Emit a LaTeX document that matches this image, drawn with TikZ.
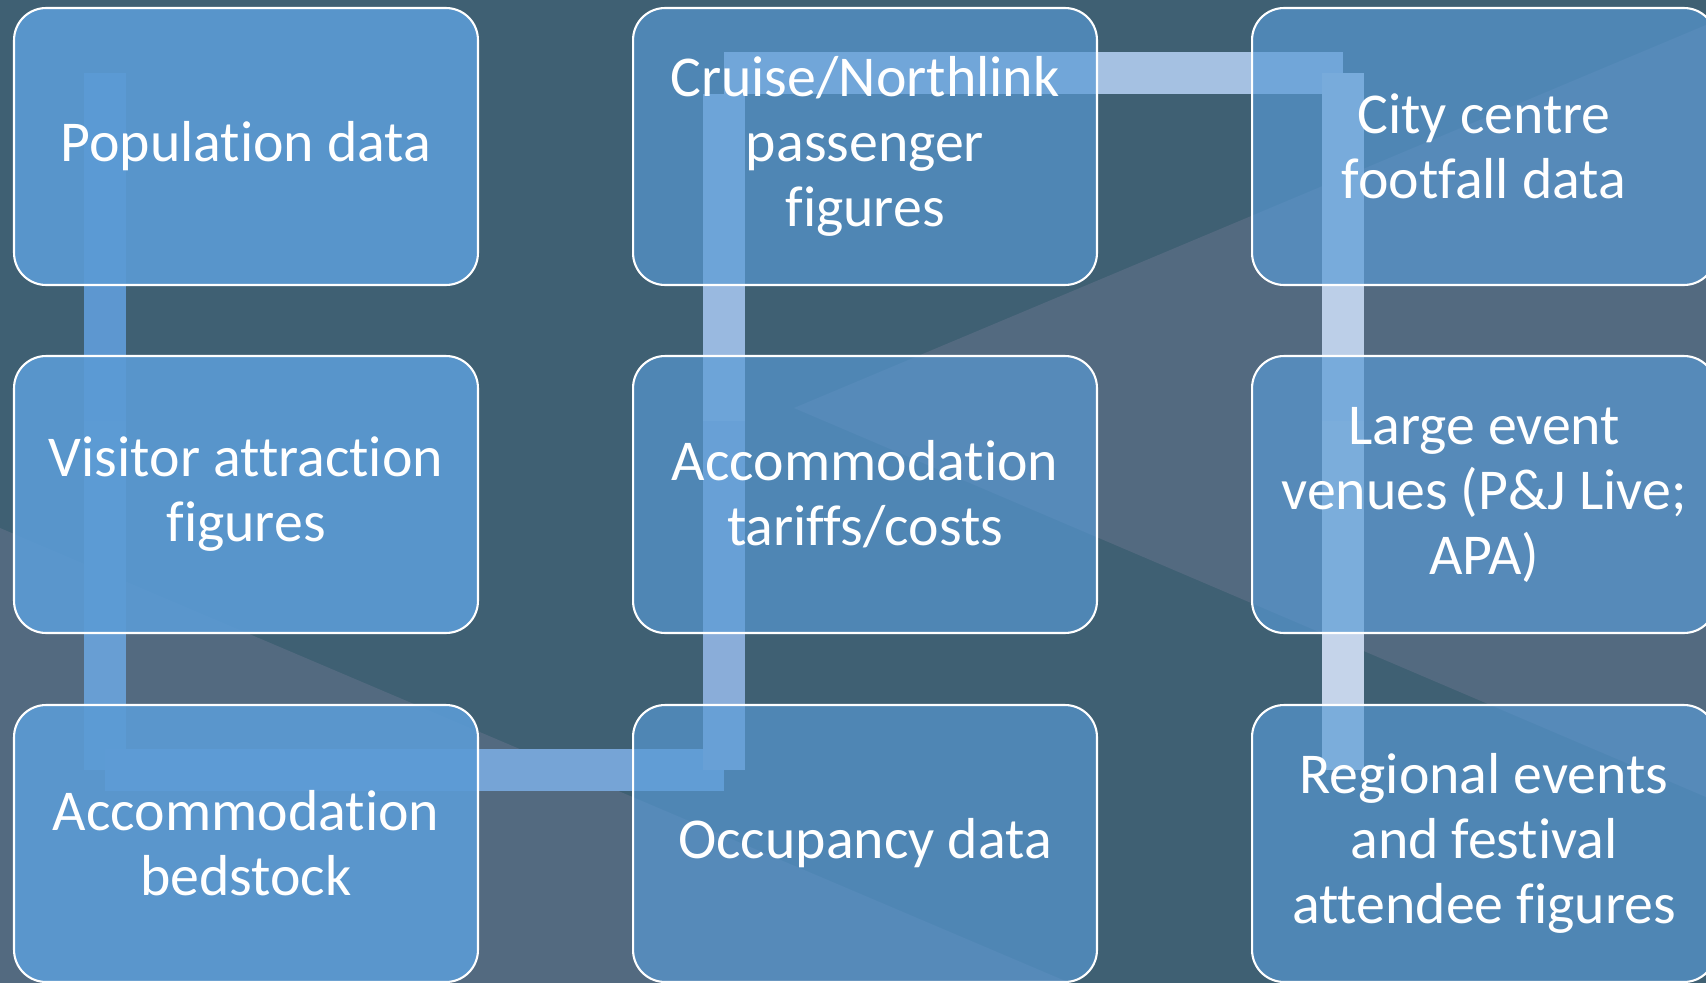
\documentclass[tikz,border=0pt]{standalone}
\usepackage{fontspec}
\setmainfont{Carlito}[Ligatures={NoCommon,NoRare,NoContextual}]
\usepackage{tikz}
\usetikzlibrary{calc,backgrounds}
\definecolor{slate1} {RGB} {63, 96, 115}
\definecolor{slate2} {RGB} {83, 106, 128}
\definecolor{tile1} {RGB} {91, 155, 213}
\definecolor{tile2} {RGB} {88, 154, 213}
\definecolor{link1} {RGB} {93, 151, 208}
\definecolor{link2} {RGB} {104, 158, 211}
\definecolor{link3} {RGB} {118, 164, 214}
\definecolor{link4} {RGB} {138, 173, 217}
\definecolor{link5} {RGB} {153, 185, 224}
\definecolor{link6} {RGB} {165, 193, 226}
\definecolor{link7} {RGB} {188, 207, 232}
\definecolor{link8} {RGB} {197, 212, 234}
\pgfdeclarelayer{links}
\pgfsetlayers{background,links,main}
\tikzstyle{tile}=[
  rectangle, rounded corners=0.64cm, draw=white, line width=1.2pt,
  minimum width=9.28cm, minimum height=5.54cm, inner sep=0pt,
  align=center, text=white, text opacity=1,
  font=\fontsize{32.9}{37}\selectfont
]
\tikzstyle{tileA}=[tile, fill=tile1, fill opacity=0.9]
\tikzstyle{tileB}=[tile, fill=tile2, fill opacity=0.67]

\begin{document}
\begin{tikzpicture}[x=0.02cm, y=-0.02cm]
  \useasboundingbox (0,0) rectangle (1706,983);
  \begin{pgfonlayer}{background}
    \fill[slate1] (0,0) rectangle (1706,983);
    \fill[slate2] (794,408) -- (1706,25) -- (1706,797) -- cycle;
    \fill[slate2] (0,528) -- (1070,983) -- (0,983) -- cycle;
  \end{pgfonlayer}

  \node[tileA] (pop) at (246,146.5) {Population data};
  \node[tileA] (vis) at (246,494.5) {Visitor attraction\\figures};
  \node[tileA] (bed) at (246,843.5) {Accommodation\\bedstock};
  \node[tileB] (occ) at (865,843.5) {Occupancy data};
  \node[tileB] (tar) at (865,494.5) {Accommodation\\tariffs/costs};
  \node[tileB] (cru) at (865,146.5) {Cruise/Northlink\\passenger\\figures};
  \node[tileB] (city) at (1484,146.5) {City centre\\footfall data};
  \node[tileB] (large) at (1484,494.5) {Large event\\venues (P\&J Live;\\APA)};
  \node[tileB] (reg) at (1484,843.5) {Regional events\\and festival\\attendee figures};

  \foreach \n in {pop,vis,bed,occ,tar,cru,city,large,reg}
    \coordinate (\n-p) at ($(\n.north west)+(92,66)$);

  \begin{pgfonlayer}{links}
    \fill[link1] ($(pop-p)+(-21,0)$) rectangle ($(vis-p)+(21,0)$);
    \fill[link2] ($(vis-p)+(-21,0)$) rectangle ($(bed-p)+(21,0)$);
    \fill[link3] ($(bed-p)+(0,-21)$) rectangle ($(occ-p)+(0,21)$);
    \fill[link4] ($(occ-p)+(-21,0)$) rectangle ($(tar-p)+(21,0)$);
    \fill[link5] ($(tar-p)+(-21,0)$) rectangle ($(cru-p)+(21,21)$);
    \fill[link6] ($(cru-p)+(0,-21)$) rectangle ($(city-p)+(0,21)$);
    \fill[link7] ($(city-p)+(-21,0)$) rectangle ($(large-p)+(21,0)$);
    \fill[link8] ($(large-p)+(-21,0)$) rectangle ($(reg-p)+(21,0)$);
  \end{pgfonlayer}
\end{tikzpicture}
\end{document}
